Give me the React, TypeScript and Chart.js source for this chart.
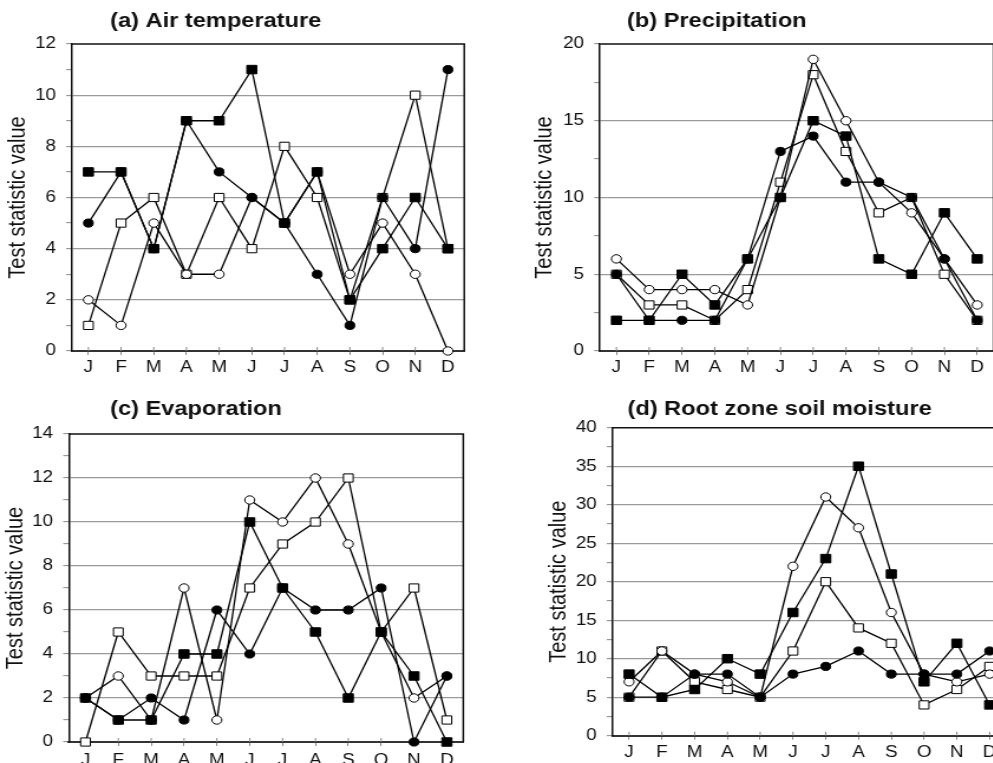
import React, { useEffect, useRef } from 'react';
import { Chart, registerables } from 'chart.js';

Chart.register(...registerables);

// ---------- data ----------
const months = ['J', 'F', 'M', 'A', 'M', 'J', 'J', 'A', 'S', 'O', 'N', 'D'];

// (a) Air temperature
const airSqFilled = [7, 7, 4, 9, 9, 11, 5, 7, 2, 4, 6, 4];
const airCircFilled = [5, 7, 4, 9, 7, 6, 5, 3, 1, 6, 4, 11];
const airSqOpen = [1, 5, 6, 3, 6, 4, 8, 6, 2, 6, 10, 4];
const airCircOpen = [2, 1, 5, 3, 3, 6, 5, 7, 3, 5, 3, 0];

// (b) Precipitation
const precSqFilled = [2, 2, 5, 3, 6, 10, 15, 14, 6, 5, 9, 6];
const precCircFilled = [5, 2, 2, 2, 6, 13, 14, 11, 11, 10, 6, 2];
const precSqOpen = [5, 3, 3, 2, 4, 11, 18, 13, 9, 10, 5, 2];
const precCircOpen = [6, 4, 4, 4, 3, 10, 19, 15, 11, 9, 6, 3];

// (c) Evaporation
const evapSqFilled = [2, 1, 1, 4, 4, 10, 7, 5, 2, 5, 3, 0];
const evapCircFilled = [2, 1, 2, 1, 6, 4, 7, 6, 6, 7, 0, 3];
const evapSqOpen = [0, 5, 3, 3, 3, 7, 9, 10, 12, 5, 7, 1];
const evapCircOpen = [2, 3, 1, 7, 1, 11, 10, 12, 9, 5, 2, 3];

// (d) Root zone soil moisture
const soilSqFilled = [8, 5, 6, 10, 8, 16, 23, 35, 21, 7, 12, 4];
const soilCircFilled = [5, 5, 8, 8, 5, 8, 9, 11, 8, 8, 8, 11];
const soilSqOpen = [5, 11, 7, 6, 5, 11, 20, 14, 12, 4, 6, 9];
const soilCircOpen = [7, 11, 8, 7, 5, 22, 31, 27, 16, 8, 7, 8];

const yAxisTitle = 'Test statistic value';

// ---------- layout / style ----------
const S = 1.18; // horizontal stretch of the figure
const FONT = "'Liberation Sans', Arial, Helvetica, sans-serif";

type Panel = {
  key: string;
  title: string;
  left: number;
  top: number;
  width: number;
  height: number;
  yMax: number;
  step: number;
  major: number;
  yAxisWidth: number;
  padTop: number;
  padRight: number;
  xAxisHeight: number;
  xTickPad: number;
  yTitlePad: number;
  titleX: number;
  titleY: number;
  series: number[][];
};

const panels: Panel[] = [
  {
    key: 'a', title: '(a) Air temperature', left: 0, top: 0, width: 415, height: 390,
    yMax: 12, step: 1, major: 2,
    yAxisWidth: 72 / S, padTop: 44, padRight: 415 - 464 / S, xAxisHeight: 39, xTickPad: 2,
    yTitlePad: 18 / S - 12, titleX: 110 / S, titleY: 21,
    series: [airSqFilled, airCircFilled, airCircOpen, airSqOpen],
  },
  {
    key: 'b', title: '(b) Precipitation', left: 490, top: 0, width: 450, height: 390,
    yMax: 20, step: 2.5, major: 5,
    yAxisWidth: 110 / S, padTop: 44, padRight: 450 - 503.6 / S, xAxisHeight: 39, xTickPad: 2,
    yTitlePad: 55 / S - 12, titleX: 137 / S, titleY: 21,
    series: [precSqFilled, precCircFilled, precCircOpen, precSqOpen],
  },
  {
    key: 'c', title: '(c) Evaporation', left: 0, top: 380, width: 415, height: 390,
    yMax: 14, step: 1, major: 2,
    yAxisWidth: 69 / S, padTop: 54, padRight: 415 - 463 / S, xAxisHeight: 28, xTickPad: 4,
    yTitlePad: 16 / S - 12, titleX: 110 / S, titleY: 29,
    series: [evapSqFilled, evapCircFilled, evapCircOpen, evapSqOpen],
  },
  {
    key: 'd', title: '(d) Root zone soil moisture', left: 490, top: 380, width: 450, height: 390,
    yMax: 40, step: 2.5, major: 5,
    yAxisWidth: 122.7 / S, padTop: 47.7, padRight: 450 - 516 / S, xAxisHeight: 34.3, xTickPad: 2,
    yTitlePad: 69.5 / S - 12, titleX: 137.5 / S, titleY: 29,
    series: [soilSqFilled, soilCircFilled, soilCircOpen, soilSqOpen],
  },
];

const seriesStyles = [
  { label: 'Filled square', pointStyle: 'rect', radius: 6, filled: true },
  { label: 'Filled circle', pointStyle: 'circle', radius: 4.1, filled: true },
  { label: 'Open circle', pointStyle: 'circle', radius: 4.2, filled: false },
  { label: 'Open square', pointStyle: 'rect', radius: 5.8, filled: false },
];

const titlePlugin = {
  id: 'panelTitle',
  afterDraw(chart: any, _args: any, opts: any) {
    if (!opts || !opts.text) return;
    const ctx = chart.ctx;
    ctx.save();
    ctx.font = `bold 20px ${FONT}`;
    ctx.fillStyle = '#111';
    ctx.textAlign = 'left';
    ctx.textBaseline = 'middle';
    ctx.fillText(opts.text, opts.x, opts.y);
    ctx.restore();
  },
};

const framePlugin = {
  id: 'panelFrame',
  beforeDatasetsDraw(chart: any) {
    const { ctx, chartArea, scales } = chart;
    const { left, right, top, bottom } = chartArea;
    ctx.save();
    ctx.strokeStyle = '#111';
    ctx.lineWidth = 1.5;
    ctx.beginPath();
    ctx.moveTo(left, top);
    ctx.lineTo(right, top);
    ctx.lineTo(right, bottom);
    ctx.stroke();
    // small tick marks crossing the x axis (upper half; lower half drawn by the scale)
    const xs = scales.x;
    ctx.strokeStyle = '#888';
    ctx.lineWidth = 1;
    ctx.beginPath();
    xs.ticks.forEach((_t: any, i: number) => {
      const px = xs.getPixelForTick(i);
      ctx.moveTo(px, bottom);
      ctx.lineTo(px, bottom - 4);
    });
    ctx.stroke();
    ctx.restore();
  },
};

function PanelChart({ p }: { p: Panel }) {
  const ref = useRef<HTMLCanvasElement | null>(null);

  useEffect(() => {
    if (!ref.current) return;
    const isMajor = (v: number) => Math.abs(v / p.major - Math.round(v / p.major)) < 1e-6;
    const datasets = p.series.map((data, i) => {
      const st = seriesStyles[i];
      return {
        label: st.label,
        data,
        borderColor: '#000',
        borderWidth: 1.3,
        pointStyle: st.pointStyle,
        pointRadius: st.radius,
        pointHoverRadius: st.radius,
        pointBackgroundColor: st.filled ? '#000' : '#fff',
        pointBorderColor: '#000',
        pointBorderWidth: 1,
        tension: 0,
        fill: false,
        clip: false,
      };
    });

    const chart = new Chart(ref.current, {
      type: 'line',
      data: { labels: months, datasets },
      plugins: [titlePlugin, framePlugin],
      options: {
        responsive: false,
        animation: false,
        events: [],
        layout: { padding: { left: 0, top: p.padTop, right: p.padRight, bottom: 0 } },
        plugins: {
          legend: { display: false },
          tooltip: { enabled: false },
          panelTitle: { text: p.title, x: p.titleX, y: p.titleY },
        } as any,
        scales: {
          x: {
            type: 'category',
            offset: true,
            grid: {
              display: true,
              drawOnChartArea: false,
              drawTicks: true,
              tickLength: 4,
              tickColor: '#888',
              lineWidth: 1,
            },
            border: { display: true, color: '#333', width: 2 },
            ticks: {
              autoSkip: false,
              maxRotation: 0,
              minRotation: 0,
              padding: p.xTickPad + 1,
              color: '#111',
              font: { family: FONT, size: 16 },
            },
            afterFit: (sc: any) => {
              sc.height = p.xAxisHeight;
            },
          },
          y: {
            type: 'linear',
            min: 0,
            max: p.yMax,
            ticks: {
              stepSize: p.step,
              autoSkip: false,
              padding: 8.5,
              color: '#111',
              font: { family: FONT, size: 16 },
              callback: (v: any) => (isMajor(Number(v)) ? String(v) : ''),
            },
            grid: {
              display: true,
              color: (c: any) => {
                const v = c.tick ? c.tick.value : 0;
                return v > 0 && v < p.yMax && isMajor(v) ? '#9a9a9a' : 'rgba(0,0,0,0)';
              },
              lineWidth: 1.3,
              drawTicks: true,
              tickLength: 5,
              tickColor: '#888',
              tickWidth: 1,
            },
            border: { display: true, color: '#111', width: 1.5 },
            title: {
              display: true,
              text: yAxisTitle,
              color: '#111',
              font: { family: FONT, size: 20 },
              padding: { top: p.yTitlePad, bottom: 0 },
            },
            afterFit: (sc: any) => {
              sc.width = p.yAxisWidth;
            },
          },
        },
      } as any,
    });
    return () => chart.destroy();
  }, [p]);

  return (
    <canvas
      ref={ref}
      width={p.width}
      height={p.height}
      style={{
        position: 'absolute',
        left: p.left,
        top: p.top,
        width: `${p.width * S}px`,
        height: `${p.height}px`,
      }}
    />
  );
}

export default function App() {
  return (
    <div
      style={{
        position: 'absolute',
        left: 0,
        top: 0,
        width: 993,
        height: 763,
        overflow: 'hidden',
        background: '#fff',
      }}
    >
      {panels.map((p) => (
        <PanelChart key={p.key} p={p} />
      ))}
    </div>
  );
}
